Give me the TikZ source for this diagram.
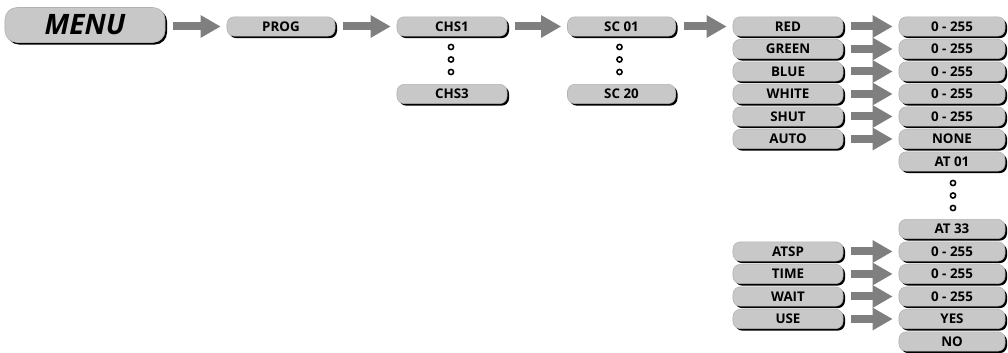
\documentclass[tikz,border=0pt]{standalone}
\usepackage{fontspec}
\setmainfont{Open Sans}
\usepackage{xcolor}
\usetikzlibrary{arrows.meta, shadows}

\definecolor{boxgray}{HTML}{C8C8C8}
\definecolor{arrowgray}{HTML}{7F7F7F}

\tikzset{
  menubox/.style={draw=gray!60, fill=boxgray, rounded corners=0.18cm,
    minimum width=2.7cm, minimum height=0.48cm, inner sep=0pt,
    font=\fontsize{9.5}{9.5}\selectfont\bfseries,
    drop shadow={shadow xshift=0.05cm, shadow yshift=-0.05cm, fill=black, opacity=1}},
  valbox/.style={menubox, minimum width=2.65cm},
  flowarrow/.style={draw=arrowgray, line width=0.2cm,
    -{Triangle[length=0.5cm, width=0.53cm]},
    shorten <=0.2cm, shorten >=0.15cm},
  gapdot/.style={circle, draw, line width=1.1pt, inner sep=0pt, minimum width=0.13cm, minimum height=0.1cm}
}

\begin{document}
\begin{tikzpicture}[x=0.025cm, y=-0.025cm]
        \useasboundingbox (0,0) rectangle (1008,353);

        % Main chain
        \node[menubox, minimum width=4cm, minimum height=0.875cm, rounded corners=0.3cm,
              font=\fontsize{20}{20}\selectfont\bfseries\itshape] (menu) at (85,25) {MENU};
        \node[menubox] (prog) at (281,26.5) {PROG};
        \node[menubox, minimum width=2.75cm] (chs1) at (452,26.5) {CHS1};
        \node[menubox, minimum width=2.75cm] (chs3) at (452,94) {CHS3};
        \node[menubox] (sc01) at (621.5,26.5) {SC 01};
        \node[menubox] (sc20) at (621.5,94) {SC 20};

        \draw[flowarrow] (menu.east |- prog.west) -- (prog.west);
        \draw[flowarrow] (prog.east) -- (chs1.west);
        \draw[flowarrow] (chs1.east) -- (sc01.west);

        % Dots between first and last
        \foreach \y [count=\i] in {47, 59.5, 72} {
            \node[gapdot] (chsdot\i) at (451,\y) {};
            \node[gapdot] (scdot\i) at (619.5,\y) {};
            \node[gapdot] (atdot\i) at (953,{136+\y}) {};
        }

        % Scene items
        \foreach \lbl/\k in {RED/0, GREEN/1, BLUE/2, WHITE/3, SHUT/4, AUTO/5, ATSP/10, TIME/11, WAIT/12, USE/13} {
            \node[menubox, minimum width=2.75cm] (item\k) at (788,{26.5+22.5*\k}) {\lbl};
        }
        \draw[flowarrow] (sc01.east) -- (item0.west);

        % Values
        \foreach \val/\k in {0 - 255/0, 0 - 255/1, 0 - 255/2, 0 - 255/3, 0 - 255/4, NONE/5, AT 01/6, AT 33/9,
                             0 - 255/10, 0 - 255/11, 0 - 255/12, YES/13, NO/14} {
            \node[valbox] (val\k) at (952,{26.5+22.5*\k}) {\val};
        }

        \foreach \k in {0,1,2,3,4,5,10,11,12,13} {
            \draw[flowarrow] (item\k.east) -- (val\k.west);
        }
    \end{tikzpicture}
\end{document}
